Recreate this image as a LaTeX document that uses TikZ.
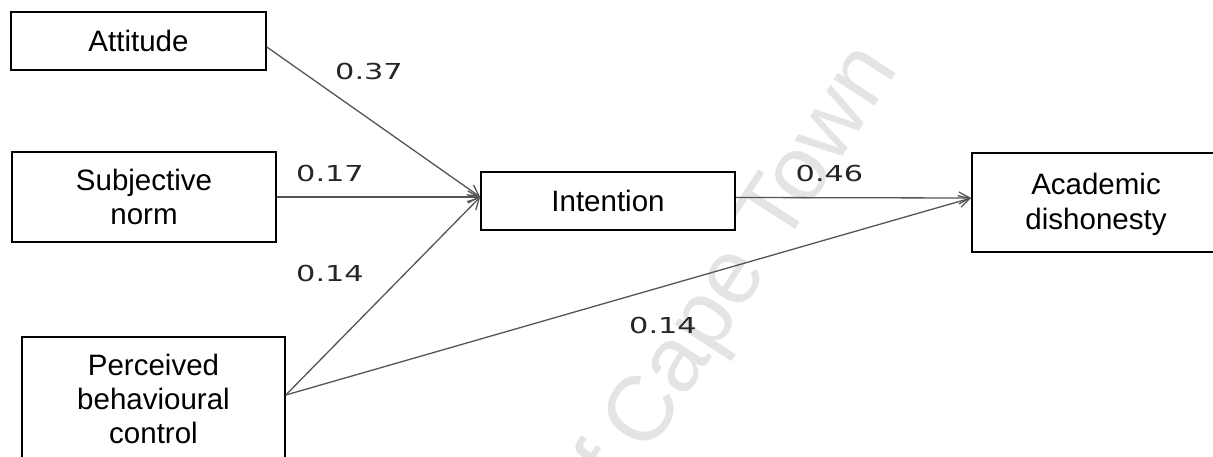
\documentclass[tikz,border=0pt]{standalone}
\usepackage{fontspec}
\setmainfont{Liberation Sans}
\newfontfamily\labelfont{DejaVu Sans}
\usetikzlibrary{arrows.meta}
\definecolor{linegrey}{HTML}{555555}
\definecolor{wmgrey}{HTML}{E4E4E4}
\tikzset{
  box/.style={draw=black, line width=1.6pt, fill=white, rectangle, align=center,
    inner sep=0pt, font=\fontsize{29.5}{34}\selectfont},
  path/.style={draw=linegrey, line width=1.3pt,
    -{Straight Barb[length=11pt,width=12pt,line width=1.3pt]}},
  coef/.style={font=\labelfont\fontsize{22}{24}\selectfont, text=black!85,
    xscale=1.38, inner sep=0pt},
  watermark/.style={font=\fontsize{92}{100}\selectfont, text=wmgrey,
    rotate=57, inner sep=0pt}
}
\begin{document}
\begin{tikzpicture}[x=1pt,y=-1pt]
  \useasboundingbox (0,0) rectangle (1213,457);
  \clip (0,0) rectangle (1213,457);
  \fill[white] (0,0) rectangle (1213,457);

  % faint watermark behind the diagram
  \node[watermark, anchor=base] (wm) at (774,262) {Cape Town};
  \node[watermark, anchor=base east] (wmpre) at (wm.base west) {University of\rule{20pt}{0pt}};

  % constructs
  \node[box, minimum width=255pt, minimum height=58pt] (att) at (138.5,41) {Attitude};
  \node[box, minimum width=264pt, minimum height=90pt] (sub) at (144,197) {Subjective\\norm};
  \node[box, minimum width=263pt, minimum height=124pt] (pbc) at (153.5,399) {Perceived\\behavioural\\control};
  \node[box, minimum width=248pt, minimum height=99pt, text depth=0pt] (acad) at (1096,202.5)
    {\raisebox{22pt}{\begin{tabular}{@{}c@{}}Academic\\[1pt]dishonesty\end{tabular}}};
  \node[box, minimum width=254pt, minimum height=58pt] (int) at (608,201) {Intention};

  % paths
  \draw[path] ([yshift=-6pt]att.east) -- ([yshift=4pt]int.west);
  \draw[path] (sub.east) -- ([yshift=4pt]int.west);
  \draw[path] ([yshift=4pt]pbc.east) -- ([yshift=4pt]int.west);
  \draw[path] ([yshift=4pt]pbc.east) -- ([yshift=4.5pt]acad.west);
  \draw[path] ([yshift=3.5pt]int.east) -- ([yshift=4.5pt]acad.west);

  % path coefficients
  \node[coef] (c1) at (369,71.5) {0.37};
  \node[coef] (c2) at (330,173) {0.17};
  \node[coef] (c3) at (829.5,173.5) {0.46};
  \node[coef] (c4) at (330,273.5) {0.14};
  \node[coef] (c5) at (663,325) {0.14};
\end{tikzpicture}
\end{document}
